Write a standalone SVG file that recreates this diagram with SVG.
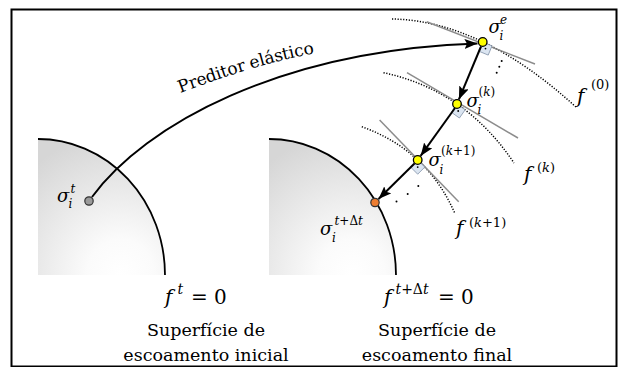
<svg xmlns="http://www.w3.org/2000/svg" width="620" height="367" viewBox="0 0 620 367">
<style>
.dotc{fill:none;stroke:#000;stroke-width:1.5;stroke-dasharray:1.2 1.6}
.tan{stroke:#8c8c8c;stroke-width:1.5;fill:none}
.arw{stroke:#000;stroke-width:2;fill:none;marker-end:url(#ah)}
.sq{fill:#dbe5f1;stroke:#7f8fa6;stroke-width:0.8}
.yp{fill:#ffff00;stroke:#000;stroke-width:1.3}
.surf{stroke:#000;stroke-width:1.8;fill:none}
</style>
<defs>
<radialGradient id="g" cx="0.65" cy="1" r="1.05">
<stop offset="0" stop-color="#ffffff"/>
<stop offset="0.25" stop-color="#fbfbfb"/>
<stop offset="1" stop-color="#d6d6d6"/>
</radialGradient>
<marker id="ah" markerUnits="userSpaceOnUse" markerWidth="13" markerHeight="10" refX="13" refY="5" orient="auto">
<path d="M0,0 L13,5 L0,10 L2.5,5 Z" fill="#000"/>
</marker>
<path id="pp" d="M180,93 Q262,62 322,52"/>
</defs>
<rect x="11.5" y="9.5" width="605" height="357" fill="#fff" stroke="#000" stroke-width="2"/>

<g id="surface-initial">
<path d="M38,139 A127,136 0 0 1 165,275 L38,275 Z" fill="url(#g)"/>
<path class="surf" d="M38,139 A127,136 0 0 1 165,275"/>
</g>
<g id="surface-final">
<path d="M269,139 A127,136 0 0 1 396,275 L269,275 Z" fill="url(#g)"/>
<path class="surf" d="M269,139 A127,136 0 0 1 396,275"/>
</g>

<g id="yield-curves">
<path class="dotc" d="M392,19 Q481.5,20.5 577,108"/>
<path class="dotc" d="M383.5,72.7 Q465.25,90.15 514,163"/>
<path class="dotc" d="M361.8,126.7 Q427.15,150.15 454.7,213"/>
<line class="tan" x1="426.7" y1="21.7" x2="535" y2="64"/>
<line class="tan" x1="407" y1="72.7" x2="518" y2="138"/>
<line class="tan" x1="379.6" y1="120" x2="458.7" y2="201.7"/>
</g>

<g id="markers">
<polygon class="sq" points="482.7,42 492,45.9 488.2,55.1 478.9,51.2"/>
<circle cx="485.5" cy="48.6" r="0.9"/>
<polygon class="sq" points="457,104 465.2,109.8 459.4,118 451.3,112.2"/>
<circle cx="458.2" cy="111" r="0.9"/>
<polygon class="sq" points="417.7,160 424.8,167.1 417.7,174.2 410.6,167.1"/>
<circle cx="417.7" cy="167.1" r="0.9"/>
<circle cx="501.7" cy="61" r="1"/>
<circle cx="499.3" cy="66.7" r="1"/>
<circle cx="496.7" cy="72.7" r="1"/>
<circle cx="418.3" cy="186" r="1"/>
<circle cx="407.7" cy="194" r="1"/>
<circle cx="396.5" cy="201.5" r="1"/>
</g>

<g id="connectors">
<path class="arw" d="M92,197 C145,125 280,50 477.5,43.5"/>
<line class="arw" x1="481" y1="46.5" x2="458.9" y2="99.4"/>
<line class="arw" x1="455" y1="108" x2="420.6" y2="155.9"/>
<line class="arw" x1="414.5" y1="163.5" x2="378.5" y2="199"/>
<text font-size="17" font-family="DejaVu Serif, serif"><textPath href="#pp" textLength="140" lengthAdjust="spacing">Preditor elástico</textPath></text>
</g>

<g font-family="DejaVu Serif, serif" font-style="italic">
<g id="node-sigma-t">
<circle cx="89" cy="201" r="4.2" fill="#9a9a9a" stroke="#333" stroke-width="1.2"/>
<text font-size="18" x="57" y="202">σ</text>
<text font-size="12" x="70.5" y="193">t</text>
<text font-size="12" x="68.5" y="207.5">i</text>
</g>

<g id="node-sigma-e">
<circle class="yp" cx="482.7" cy="42" r="4.3"/>
<text font-size="18" x="488.5" y="33">σ</text>
<text font-size="12" x="500" y="24">e</text>
<text font-size="12" x="499.5" y="39.5">i</text>
</g>

<g id="node-sigma-k">
<circle class="yp" cx="457" cy="104" r="4.3"/>
<text font-size="18" x="466.5" y="107">σ</text>
<text font-size="12" x="478.5" y="96" font-style="normal">(<tspan font-style="italic">k</tspan>)</text>
<text font-size="12" x="477.5" y="113.5">i</text>
</g>

<g id="node-sigma-k1">
<circle class="yp" cx="417.7" cy="160" r="4.3"/>
<text font-size="18" x="428.5" y="166">σ</text>
<text font-size="12" x="441" y="155" font-style="normal">(<tspan font-style="italic">k</tspan>+1)</text>
<text font-size="12" x="439.5" y="173.5">i</text>
</g>

<g id="node-sigma-tdt">
<circle cx="375" cy="202.5" r="4.2" fill="#ed7d31" stroke="#333" stroke-width="1.2"/>
<text font-size="18" x="320" y="235">σ</text>
<text font-size="12" x="334.5" y="225">t<tspan font-style="normal">+Δ</tspan>t</text>
<text font-size="12" x="332" y="242">i</text>
</g>

<g id="label-f0">
<text font-size="20" x="577" y="103">f</text>
<text font-size="13" x="591" y="89" font-style="normal">(0)</text>
</g>
<g id="label-fk">
<text font-size="20" x="524" y="181">f</text>
<text font-size="13" x="537" y="172" font-style="normal">(<tspan font-style="italic">k</tspan>)</text>
</g>
<g id="label-fk1">
<text font-size="20" x="456" y="235">f</text>
<text font-size="13" x="469" y="227" font-style="normal">(<tspan font-style="italic">k</tspan>+1)</text>
</g>

<g id="label-initial">
<text font-size="20" x="165" y="304">f</text>
<text font-size="14" x="177.5" y="294">t</text>
<text font-size="20" x="191" y="304" font-style="normal">= 0</text>
</g>
<g id="label-final">
<text font-size="20" x="384" y="304">f</text>
<text font-size="14" x="395.5" y="294">t<tspan font-style="normal">+Δ</tspan>t</text>
<text font-size="20" x="438" y="304" font-style="normal">= 0</text>
</g>
</g>
<g id="captions" font-family="DejaVu Serif, serif" font-size="17.5" text-anchor="middle">
<text x="206" y="336">Superfície de</text>
<text x="206" y="361">escoamento inicial</text>
<text x="437" y="336">Superfície de</text>
<text x="437" y="361">escoamento final</text>
</g>
</svg>
